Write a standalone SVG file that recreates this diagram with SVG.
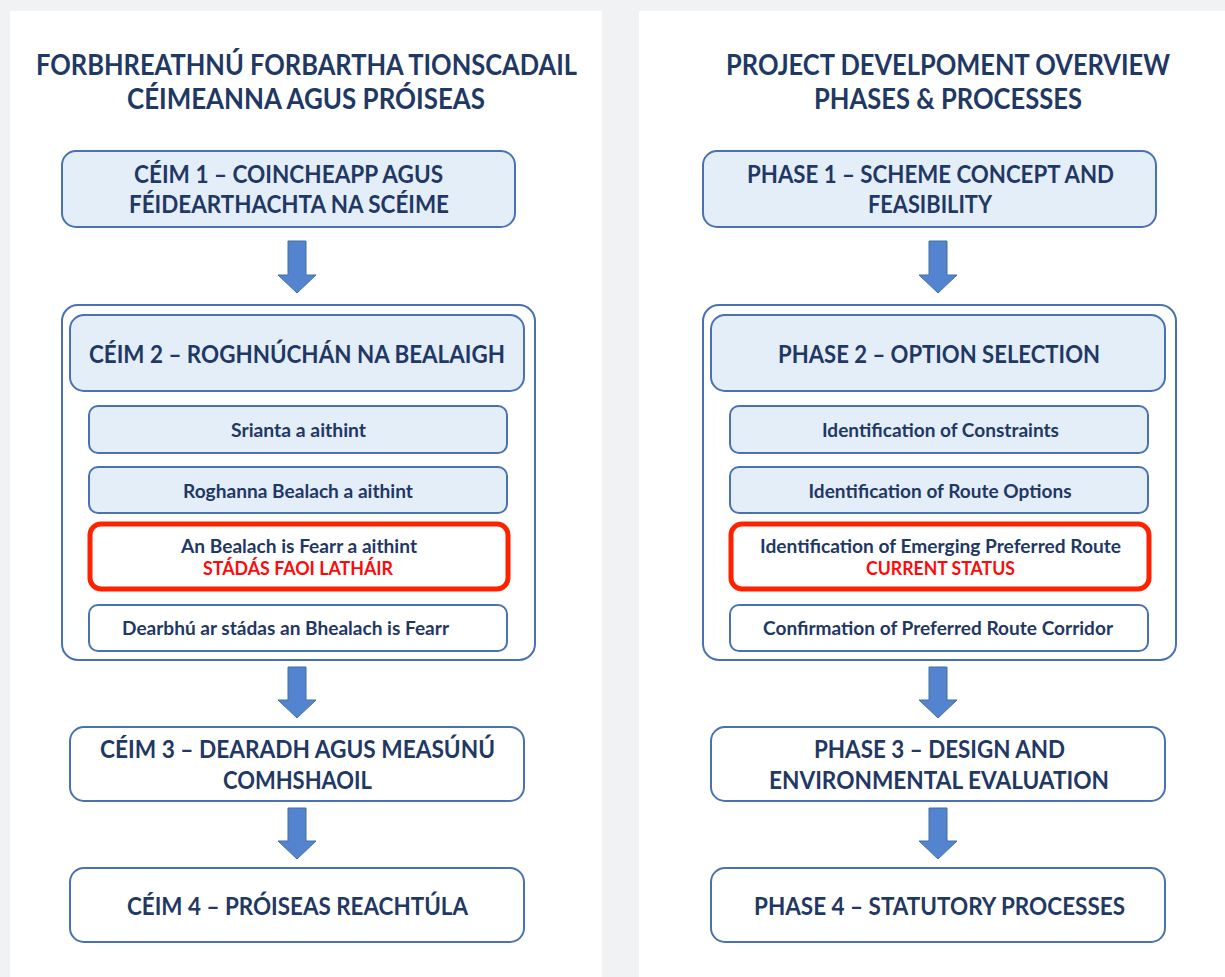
<svg xmlns="http://www.w3.org/2000/svg" width="1225" height="977" viewBox="0 0 1225 977">
<defs>
<style>
.bg{fill:#f1f2f4}
.panel{fill:#ffffff}
.lb{fill:#e4eef9;stroke:#4a72b0;stroke-width:2}
.wb{fill:#ffffff;stroke:#4a72b0;stroke-width:2}
.rb{fill:#ffffff;stroke:#ff2200;stroke-width:5}
text{font-family:Lato,"Open Sans","Liberation Sans",sans-serif;font-weight:700;fill:#1f3864;text-anchor:middle}
.t{font-size:28px}
.h{font-size:24px}
.s{font-size:18px}
.red{fill:#ff0a0a}
.arr{fill:#5484cf;stroke:#41719c;stroke-width:1}
</style>
</defs>
<rect class="bg" x="0" y="0" width="1225" height="977"/>
<rect class="panel" x="10" y="11" width="592" height="970"/>
<rect class="panel" x="639" y="11" width="600" height="970"/>

<g id="title-ga">
<text class="t" x="306.5" y="75" textLength="541" lengthAdjust="spacingAndGlyphs">FORBHREATHNÚ FORBARTHA TIONSCADAIL</text>
<text class="t" x="306" y="109" textLength="358" lengthAdjust="spacingAndGlyphs">CÉIMEANNA AGUS PRÓISEAS</text>
</g>
<g id="title-en">
<text class="t" x="948" y="75" textLength="444" lengthAdjust="spacingAndGlyphs">PROJECT DEVELPOMENT OVERVIEW</text>
<text class="t" x="948" y="109" textLength="268" lengthAdjust="spacingAndGlyphs">PHASES &amp; PROCESSES</text>
</g>

<g id="connectors">
<path class="arr" d="M288,241 H306 V275 H316 L297,293 L278,275 H288 Z"/>
<path class="arr" d="M288,667 H306 V700 H316 L297,718 L278,700 H288 Z"/>
<path class="arr" d="M288,808 H306 V841 H316 L297,859 L278,841 H288 Z"/>
<path class="arr" d="M929,241 H947 V275 H957 L938,293 L919,275 H929 Z"/>
<path class="arr" d="M929,667 H947 V700 H957 L938,718 L919,700 H929 Z"/>
<path class="arr" d="M929,808 H947 V841 H957 L938,859 L919,841 H929 Z"/>
</g>

<!-- Left column -->
<g id="ga-phase1">
<rect class="lb" x="62" y="151" width="453" height="76" rx="14"/>
<text class="h" x="288.5" y="183" textLength="309" lengthAdjust="spacingAndGlyphs">CÉIM 1 – COINCHEAPP AGUS</text>
<text class="h" x="289" y="213" textLength="320" lengthAdjust="spacingAndGlyphs">FÉIDEARTHACHTA NA SCÉIME</text>
</g>
<g id="ga-phase2-container">
<rect class="wb" x="62" y="305" width="473" height="355" rx="16"/>
</g>
<g id="ga-phase2">
<rect class="lb" x="70" y="315" width="454" height="76" rx="14"/>
<text class="h" x="297" y="363" textLength="416" lengthAdjust="spacingAndGlyphs">CÉIM 2 – ROGHNÚCHÁN NA BEALAIGH</text>
</g>
<g id="ga-step1">
<rect class="lb" x="89" y="406" width="418" height="47" rx="9"/>
<text class="s" x="298.5" y="437" textLength="135" lengthAdjust="spacingAndGlyphs">Srianta a aithint</text>
</g>
<g id="ga-step2">
<rect class="lb" x="89" y="467" width="418" height="46" rx="9"/>
<text class="s" x="298" y="498" textLength="230" lengthAdjust="spacingAndGlyphs">Roghanna Bealach a aithint</text>
</g>
<g id="ga-step3">
<rect class="rb" x="90" y="524" width="418" height="65" rx="11"/>
<text class="s" x="299" y="553" textLength="236" lengthAdjust="spacingAndGlyphs">An Bealach is Fearr a aithint</text>
<text class="s red" x="298" y="575" textLength="190" lengthAdjust="spacingAndGlyphs">STÁDÁS FAOI LATHÁIR</text>
</g>
<g id="ga-step4">
<rect class="wb" x="89" y="605" width="418" height="46" rx="9"/>
<text class="s" x="285.5" y="635" textLength="327" lengthAdjust="spacingAndGlyphs">Dearbhú ar stádas an Bhealach is Fearr</text>
</g>
<g id="ga-phase3">
<rect class="wb" x="70" y="727" width="454" height="74" rx="14"/>
<text class="h" x="297.5" y="758" textLength="395" lengthAdjust="spacingAndGlyphs">CÉIM 3 – DEARADH AGUS MEASÚNÚ</text>
<text class="h" x="297.5" y="789" textLength="149" lengthAdjust="spacingAndGlyphs">COMHSHAOIL</text>
</g>
<g id="ga-phase4">
<rect class="wb" x="70" y="868" width="454" height="74" rx="14"/>
<text class="h" x="297.5" y="915" textLength="341" lengthAdjust="spacingAndGlyphs">CÉIM 4 – PRÓISEAS REACHTÚLA</text>
</g>

<!-- Right column -->
<g id="en-phase1">
<rect class="lb" x="703" y="151" width="453" height="76" rx="14"/>
<text class="h" x="930.5" y="183" textLength="367" lengthAdjust="spacingAndGlyphs">PHASE 1 – SCHEME CONCEPT AND</text>
<text class="h" x="930" y="213" textLength="124" lengthAdjust="spacingAndGlyphs">FEASIBILITY</text>
</g>
<g id="en-phase2-container">
<rect class="wb" x="703" y="305" width="473" height="355" rx="16"/>
</g>
<g id="en-phase2">
<rect class="lb" x="711" y="315" width="454" height="76" rx="14"/>
<text class="h" x="939" y="363" textLength="322" lengthAdjust="spacingAndGlyphs">PHASE 2 – OPTION SELECTION</text>
</g>
<g id="en-step1">
<rect class="lb" x="730" y="406" width="418" height="47" rx="9"/>
<text class="s" x="940.5" y="437" textLength="237" lengthAdjust="spacingAndGlyphs">Identification of Constraints</text>
</g>
<g id="en-step2">
<rect class="lb" x="730" y="467" width="418" height="46" rx="9"/>
<text class="s" x="940" y="498" textLength="263" lengthAdjust="spacingAndGlyphs">Identification of Route Options</text>
</g>
<g id="en-step3">
<rect class="rb" x="731" y="524" width="418" height="65" rx="11"/>
<text class="s" x="940.5" y="553" textLength="361" lengthAdjust="spacingAndGlyphs">Identification of Emerging Preferred Route</text>
<text class="s red" x="940.5" y="575" textLength="149" lengthAdjust="spacingAndGlyphs">CURRENT STATUS</text>
</g>
<g id="en-step4">
<rect class="wb" x="730" y="605" width="418" height="46" rx="9"/>
<text class="s" x="938" y="635" textLength="350" lengthAdjust="spacingAndGlyphs">Confirmation of Preferred Route Corridor</text>
</g>
<g id="en-phase3">
<rect class="wb" x="711" y="727" width="454" height="74" rx="14"/>
<text class="h" x="939.5" y="758" textLength="251" lengthAdjust="spacingAndGlyphs">PHASE 3 – DESIGN AND</text>
<text class="h" x="939" y="789" textLength="340" lengthAdjust="spacingAndGlyphs">ENVIRONMENTAL EVALUATION</text>
</g>
<g id="en-phase4">
<rect class="wb" x="711" y="868" width="454" height="74" rx="14"/>
<text class="h" x="939.5" y="915" textLength="371" lengthAdjust="spacingAndGlyphs">PHASE 4 – STATUTORY PROCESSES</text>
</g>
</svg>
